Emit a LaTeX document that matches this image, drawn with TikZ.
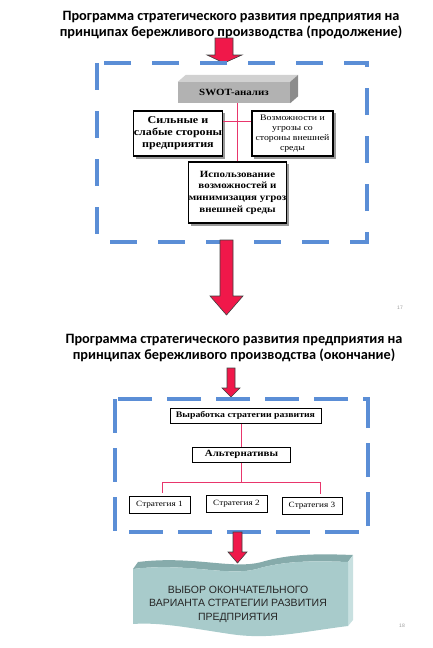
\documentclass[tikz,border=0pt]{standalone}
\usepackage{fontspec}
\setmainfont{Liberation Serif}
\newfontfamily\wideserif[FakeStretch=1.15]{Liberation Serif}
\newfontfamily\titlefont{Carlito}
\newfontfamily\bannerfont{Liberation Sans}

\definecolor{framebl}{HTML}{5B8ED6}
\definecolor{arrowred}{HTML}{F0184A}
\definecolor{wirepink}{HTML}{E8366C}
\definecolor{bannerfront}{HTML}{A8CBCB}
\definecolor{bannertop}{HTML}{86ABAB}
\definecolor{bannerside}{HTML}{C8E0E0}

\begin{document}
\begin{tikzpicture}[x=1pt,y=-1pt,
  title/.style={align=center,font=\titlefont\bfseries\fontsize{14.3}{16}\selectfont},
  frame/.style={draw=framebl,line width=3.5pt},
  bigarrow/.style={fill=arrowred,draw=black!75,line width=0.6pt},
  infobox/.style={draw,line width=1.2pt,fill=white,align=center,inner sep=0pt,
    preaction={draw=black!40,fill=black!40,transform canvas={shift={(2.5pt,-2.5pt)}}}},
  stepbox/.style={draw,line width=1pt,fill=white,align=center,inner sep=0pt},
  wire/.style={color=wirepink,line width=1.6pt},
  pagenum/.style={text=black!40,font=\bannerfont\fontsize{5}{6}\selectfont}]
  \useasboundingbox (0,0) rectangle (432,648);

  % first slide
  \node[title] (title1) at (231,25) {Программа стратегического развития предприятия на\\принципах бережливого производства (продолжение)};
  \filldraw[bigarrow] (215,38) -- (233,38) -- (233,55) -- (242,55) -- (224,63) -- (207,55) -- (215,55) -- cycle;

  \draw[frame,dash pattern=on 27pt off 21pt] (97,63) rectangle (367,242);

  \node[fill=black!30,minimum width=112pt,minimum height=21pt,inner sep=0pt,
    font=\wideserif\bfseries\fontsize{9.5}{11}\selectfont] (swot) at (234,92.5) {SWOT-анализ};
  \fill[black!18] (swot.north west) -- ([shift={(8pt,7pt)}]swot.north west)
    -- ([shift={(8pt,7pt)}]swot.north east) -- (swot.north east) -- cycle;
  \fill[black!45] (swot.north east) -- ([shift={(8pt,7pt)}]swot.north east)
    -- ([shift={(8pt,7pt)}]swot.south east) -- (swot.south east) -- cycle;

  \node[infobox,minimum width=82pt,minimum height=45pt,
    font=\wideserif\bfseries\fontsize{10.5}{12}\selectfont] (strong) at (178,133.5) {Сильные и\\слабые стороны\\предприятия};
  \node[infobox,minimum width=81pt,minimum height=45pt,
    font=\wideserif\fontsize{8.5}{10}\selectfont] (threats) at (292.5,133.5) {Возможности и\\угрозы со\\стороны внешней\\среды};
  \node[infobox,minimum width=94pt,minimum height=61pt,
    font=\wideserif\bfseries\fontsize{9.5}{11.7}\selectfont] (usage) at (237.5,192.5) {Использование\\возможностей и\\минимизация угроз\\внешней среды};

  \draw[wire] (usage.north) -- (usage.north |- swot.south);
  \draw[wire] ([yshift=12pt]strong.east) -- ([yshift=12pt]threats.west);

  \filldraw[bigarrow] (220,240) -- (233,240) -- (233,296) -- (243,296) -- (226.5,315) -- (210,296) -- (220,296) -- cycle;
  \node[pagenum] (page17) at (400,308) {17};

  % second slide
  \node[title] (title2) at (234,348.5) {Программа стратегического развития предприятия на\\принципах бережливого производства (окончание)};
  \filldraw[bigarrow] (227,368) -- (235,368) -- (235,388) -- (240,388) -- (231,397) -- (222,388) -- (227,388) -- cycle;

  \draw[frame,dash pattern=on 34pt off 15pt] (115,399) rectangle (368,532);

  \node[stepbox,minimum width=151pt,minimum height=15pt,
    font=\wideserif\bfseries\fontsize{8.5}{9}\selectfont] (develop) at (245.5,415.5) {Выработка стратегии развития};
  \node[stepbox,minimum width=98pt,minimum height=15pt,
    font=\wideserif\bfseries\fontsize{9.5}{10}\selectfont] (alt) at (241.5,454.5) {Альтернативы};
  \node[stepbox,minimum width=61pt,minimum height=17pt,
    font=\wideserif\fontsize{8}{9}\selectfont] (s1) at (159.5,504.5) {Стратегия 1};
  \node[stepbox,minimum width=61pt,minimum height=17pt,
    font=\wideserif\fontsize{8}{9}\selectfont] (s2) at (236.5,503.5) {Стратегия 2};
  \node[stepbox,minimum width=60pt,minimum height=17pt,
    font=\wideserif\fontsize{8}{9}\selectfont] (s3) at (312,505.5) {Стратегия 3};

  \coordinate (fork) at (241.5,482.5);
  \draw[wire] (alt.north) -- (alt.north |- develop.south);
  \draw[wire] (alt.south) -- (fork);
  \draw[wire,shorten >=3pt] (fork) -| ([xshift=3pt]s1.north);
  \draw[wire,shorten >=3pt] (fork) -| ([xshift=8.5pt]s3.north);

  % banner
  \fill[bannertop] (133,569) .. controls (190,562) and (230,578) .. (260,568)
    .. controls (290,560) and (320,561) .. (348,562) -- (353,555)
    .. controls (325,554) and (295,553) .. (265,561)
    .. controls (235,571) and (195,555) .. (138,562) -- cycle;
  \fill[bannerside] (348,562) -- (353,555) -- (353,620) -- (348,626) -- cycle;
  \fill[bannerfront] (133,569) .. controls (190,562) and (230,578) .. (260,568)
    .. controls (290,560) and (320,561) .. (348,562) -- (348,626)
    .. controls (300,632) and (270,640) .. (230,634)
    .. controls (190,628) and (160,622) .. (133,624) -- cycle;
  \node[align=center,text=black!85,font=\bannerfont\fontsize{10.5}{13.5}\selectfont] (choice) at (238,604)
    {ВЫБОР ОКОНЧАТЕЛЬНОГО\\ВАРИАНТА СТРАТЕГИИ РАЗВИТИЯ\\ПРЕДПРИЯТИЯ};

  \filldraw[bigarrow] (233,532) -- (242,532) -- (242,552) -- (247,552) -- (237.5,563) -- (228,552) -- (233,552) -- cycle;
  \node[pagenum] (page18) at (402,626) {18};

\end{tikzpicture}
\end{document}
